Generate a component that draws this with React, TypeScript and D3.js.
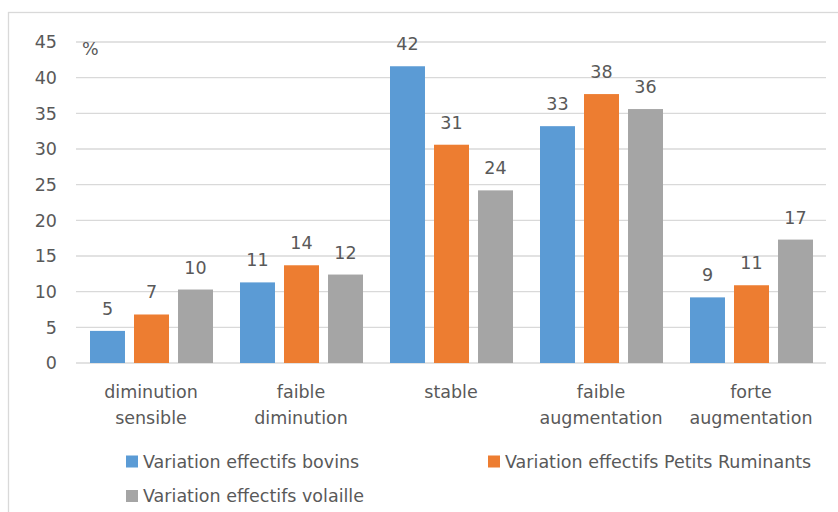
import React from "react";
import * as d3 from "d3";

const categories: string[][] = [
  ["diminution", "sensible"],
  ["faible", "diminution"],
  ["stable"],
  ["faible", "augmentation"],
  ["forte", "augmentation"],
];
const seriesNames = [
  "Variation effectifs bovins",
  "Variation effectifs Petits Ruminants",
  "Variation effectifs volaille",
];
const bovins = [4.5, 11.3, 41.6, 33.2, 9.2];
const petitsRuminants = [6.8, 13.7, 30.6, 37.7, 10.9];
const volaille = [10.3, 12.4, 24.2, 35.6, 17.3];
const colors = ["#5B9BD5", "#ED7D31", "#A5A5A5"];
const yTicks = [0, 5, 10, 15, 20, 25, 30, 35, 40, 45];

const W = 838;
const H = 512;
const FONT = "'DejaVu Sans', sans-serif";
const TXT = "#595959";
const FS = 17.5;

export default function App() {
  const series = [bovins, petitsRuminants, volaille];
  const catKeys = categories.map((c) => c.join(" "));
  const x = d3.scaleBand<string>().domain(catKeys).range([76, 826]).padding(0);
  const inner = d3
    .scaleBand<number>()
    .domain([0, 1, 2])
    .range([14, x.bandwidth() - 13])
    .paddingInner(0.205)
    .paddingOuter(0);
  const y = d3.scaleLinear().domain([0, 45]).range([363, 42]);

  return (
    <svg
      width={W}
      height={H}
      style={{ position: "absolute", left: 0, top: 0, background: "#fff" }}
      fontFamily={FONT}
    >
      <rect x={8.5} y={12.5} width={850} height={520} fill="#fff" stroke="#D9D9D9" strokeWidth={1.3} />
      {yTicks.map((t) => (
        <g key={t}>
          <line x1={76} x2={826} y1={y(t)} y2={y(t)} stroke="#D9D9D9" strokeWidth={t === 0 ? 1.6 : 1.3} />
          <text x={57} y={y(t)} dy="0.36em" textAnchor="end" fontSize={FS} fill={TXT}>
            {t}
          </text>
        </g>
      ))}
      <text x={82} y={55} fontSize={FS} fill={TXT}>%</text>
      {series.map((vals, si) =>
        vals.map((v, ci) => {
          const bx = (x(catKeys[ci]) as number) + (inner(si) as number);
          return (
            <g key={`${si}-${ci}`}>
              <rect x={bx} y={y(v)} width={inner.bandwidth()} height={y(0) - y(v)} fill={colors[si]} />
              <text
                x={bx + inner.bandwidth() / 2}
                y={y(v) - 16}
                textAnchor="middle"
                fontSize={FS}
                fill={TXT}
              >
                {Math.round(v)}
              </text>
            </g>
          );
        })
      )}
      {categories.map((lines, ci) => (
        <text
          key={ci}
          x={(x(catKeys[ci]) as number) + x.bandwidth() / 2}
          y={398}
          textAnchor="middle"
          fontSize={FS}
          fill={TXT}
        >
          {lines.map((l, li) => (
            <tspan key={li} x={(x(catKeys[ci]) as number) + x.bandwidth() / 2} y={398 + li * 26}>
              {l}
            </tspan>
          ))}
        </text>
      ))}
      {[
        { i: 0, lx: 126, ly: 455.5 },
        { i: 1, lx: 488, ly: 455.5 },
        { i: 2, lx: 126, ly: 490 },
      ].map(({ i, lx, ly }) => (
        <g key={i}>
          <rect x={lx} y={ly} width={12} height={12} fill={colors[i]} />
          <text x={lx + 17} y={ly + 12} fontSize={FS} fill={TXT}>
            {seriesNames[i]}
          </text>
        </g>
      ))}
    </svg>
  );
}
